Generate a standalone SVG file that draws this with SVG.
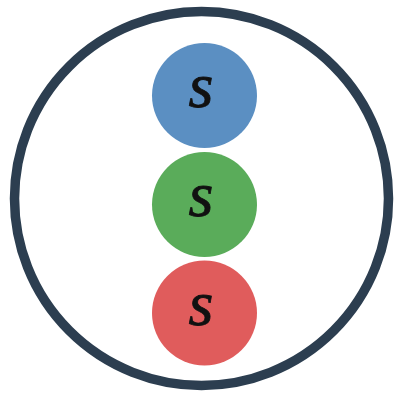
<svg xmlns="http://www.w3.org/2000/svg" width="402" height="400" viewBox="0 0 402 400">
<style>
.node circle{stroke:none}
.lbl{font-family:"Liberation Serif","DejaVu Serif",serif;font-style:italic;font-size:64px;fill:#111;stroke:#111;stroke-width:0.8;text-anchor:middle}
</style>
<rect width="402" height="400" fill="#ffffff"/>
<g id="outer"><circle cx="201.5" cy="198.5" r="187" fill="none" stroke="#2c3e50" stroke-width="9.5"/></g>
<g id="connectors"></g>
<g id="node-blue" class="node"><circle cx="204.5" cy="95.5" r="52.5" fill="#5b8fc2"/><text class="lbl" x="201" y="107">s</text></g>
<g id="node-green" class="node"><circle cx="204.5" cy="204.5" r="52.5" fill="#5aac5a"/><text class="lbl" x="201" y="216">s</text></g>
<g id="node-red" class="node"><circle cx="204.5" cy="313" r="52.5" fill="#e05c5c"/><text class="lbl" x="201" y="324.5">s</text></g>
</svg>
